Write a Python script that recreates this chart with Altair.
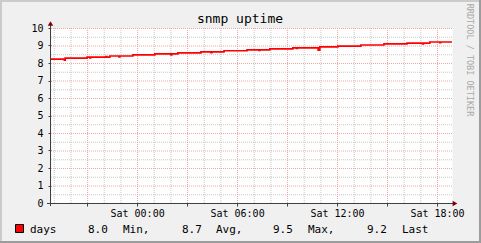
import altair as alt
import pandas as pd

# ---- data ----
title_text = "snmp uptime"
credit_text = "RRDTOOL / TOBI OETIKER"
series_name = "days"

times = [
    "2024-01-05T18:50:00Z", "2024-01-05T19:38:00Z", "2024-01-05T19:41:00Z",
    "2024-01-05T21:00:00Z", "2024-01-05T21:10:00Z", "2024-01-05T21:13:00Z",
    "2024-01-05T22:08:00Z", "2024-01-05T22:11:00Z",
    "2024-01-05T22:22:00Z", "2024-01-05T22:55:00Z", "2024-01-05T22:58:00Z",
    "2024-01-05T23:45:00Z",
    "2024-01-06T01:04:00Z", "2024-01-06T02:02:00Z", "2024-01-06T02:05:00Z",
    "2024-01-06T02:27:00Z",
    "2024-01-06T03:50:00Z", "2024-01-06T04:26:00Z", "2024-01-06T04:29:00Z",
    "2024-01-06T05:13:00Z",
    "2024-01-06T06:36:00Z", "2024-01-06T07:19:00Z", "2024-01-06T07:22:00Z",
    "2024-01-06T07:58:00Z",
    "2024-01-06T09:21:00Z", "2024-01-06T09:34:00Z", "2024-01-06T09:37:00Z",
    "2024-01-06T10:52:00Z", "2024-01-06T10:58:00Z",
    "2024-01-06T12:03:00Z", "2024-01-06T13:26:00Z", "2024-01-06T14:49:00Z",
    "2024-01-06T16:12:00Z", "2024-01-06T17:08:00Z", "2024-01-06T17:11:00Z",
    "2024-01-06T17:34:00Z", "2024-01-06T18:10:00Z", "2024-01-06T18:13:00Z",
    "2024-01-06T18:54:00Z",
]
values = [
    8.22, 8.17, 8.28,
    8.34, 8.29, 8.34,
    8.37, 8.34,
    8.40, 8.35, 8.40,
    8.46,
    8.52, 8.47, 8.52,
    8.58,
    8.64, 8.59, 8.64,
    8.70,
    8.75, 8.72, 8.75,
    8.81,
    8.86, 8.83, 8.86,
    8.73, 8.92,
    8.97, 9.03, 9.09,
    9.14, 9.09, 9.14,
    9.20, 9.17, 9.20,
    9.20,
]

y_major = [0, 1, 2, 3, 4, 5, 6, 7, 8, 9, 10]
y_minor = [0.5, 1.5, 2.5, 3.5, 4.5, 5.5, 6.5, 7.5, 8.5, 9.5]

x_minor = ["2024-01-05T%02d:00:00Z" % h for h in range(19, 24)] + \
          ["2024-01-06T%02d:00:00Z" % h for h in range(0, 19)]
x_major = ["2024-01-05T21:00:00Z"] + \
          ["2024-01-06T%02d:00:00Z" % h for h in (0, 3, 6, 9, 12, 15, 18)]

legend_labels = ["days", "8.0", "Min,", "8.7", "Avg,", "9.5", "Max,", "9.2", "Last"]

# ---- layout / style ----
legend_x = [-21, 37, 72, 131, 165, 222, 257, 316, 351]
FONT = "DejaVu Sans Mono"
W, H = 401, 175

def ms(s):
    return int(pd.Timestamp(s).value // 10**6)

xscale = alt.Scale(type="utc", domain=[ms("2024-01-05T18:50:00Z"), ms("2024-01-06T18:54:00Z")])
yscale = alt.Scale(domain=[0, 10], nice=False, zero=True)

xaxis = alt.Axis(
    values=[ms(s) for s in x_major],
    labelExpr="utchours(datum.value) % 6 == 0 ? utcFormat(datum.value, '%a %H:%M') : ''",
    grid=False, domain=False, ticks=True, tickSize=3, tickColor="#2c4d43",
    labelFont=FONT, labelFontSize=10, labelColor="#000000", labelPadding=2,
    labelAngle=0, labelOverlap=False, labelFlush=False, title=None,
)
yaxis = alt.Axis(
    values=y_major, grid=False, domain=False, ticks=True, tickSize=3,
    tickColor="#2c4d43", labelFont=FONT, labelFontSize=10, labelColor="#000000",
    labelPadding=5, labelFlush=False, title=None,
)

one = alt.Data(values=[{}])

def deco_rect(x, x2, y, y2, color):
    return alt.Chart(one).mark_rect(color=color).encode(
        x=alt.value(x), x2=alt.value(x2), y=alt.value(y), y2=alt.value(y2))

border = [
    deco_rect(-51, 430, -28, -26, "#cbcbcb"),
    deco_rect(-51, -49, -28, 215, "#cbcbcb"),
    deco_rect(-51, 430, 213, 215, "#9c9c9c"),
    deco_rect(428, 430, -28, 215, "#9c9c9c"),
]

gx_minor = alt.Chart(pd.DataFrame({"t": x_minor})).mark_rule(
    color="#c7c7c7", strokeDash=[1, 1], strokeWidth=1, xOffset=0.5
).encode(x=alt.X("t:T", scale=xscale, axis=xaxis))
gy_minor = alt.Chart(pd.DataFrame({"v": y_minor})).mark_rule(
    color="#c7c7c7", strokeDash=[1, 1], strokeWidth=1, yOffset=0.5
).encode(y=alt.Y("v:Q", scale=yscale, axis=yaxis))
gx_major = alt.Chart(pd.DataFrame({"t": x_major})).mark_rule(
    color="#eea7a7", strokeDash=[1, 1], strokeWidth=1, xOffset=0.5
).encode(x=alt.X("t:T", scale=xscale, axis=xaxis))
gy_major = alt.Chart(pd.DataFrame({"v": y_major})).mark_rule(
    color="#eea7a7", strokeDash=[1, 1], strokeWidth=1, yOffset=0.5
).encode(y=alt.Y("v:Q", scale=yscale, axis=yaxis))

line = alt.Chart(pd.DataFrame({"t": times, "v": values})).mark_line(
    interpolate="step-after", color="#ff0000", strokeWidth=1.7
).encode(
    x=alt.X("t:T", scale=xscale, axis=xaxis),
    y=alt.Y("v:Q", scale=yscale, axis=yaxis),
)

axis_col = "#404040"
y_axis_line = alt.Chart(one).mark_rule(color=axis_col, strokeWidth=1).encode(
    x=alt.value(-0.5), y=alt.value(-4), y2=alt.value(178))
x_axis_line = alt.Chart(one).mark_rule(color=axis_col, strokeWidth=1).encode(
    x=alt.value(-4), x2=alt.value(402), y=alt.value(175.5))
arrow_up = alt.Chart(one).mark_point(shape="triangle-up", filled=True, color="#7f0000",
                                     size=30, opacity=1).encode(
    x=alt.value(-0.5), y=alt.value(-4.5))
arrow_right = alt.Chart(one).mark_point(shape="triangle-right", filled=True, color="#7f0000",
                                        size=30, opacity=1).encode(
    x=alt.value(404), y=alt.value(175.5))

title = alt.Chart(one).mark_text(font=FONT, fontSize=13, align="center",
                                 baseline="alphabetic", color="#000000").encode(
    x=alt.value(189), y=alt.value(-5), text=alt.value(title_text))
credit = alt.Chart(one).mark_text(font=FONT, fontSize=8.5, align="center",
                                  baseline="middle", angle=90, color="#a8a8a8").encode(
    x=alt.value(419), y=alt.value(32), text=alt.value(credit_text))

swatch = alt.Chart(one).mark_rect(fill="#ff0000", stroke="#000000", strokeWidth=1).encode(
    x=alt.value(-35.5), x2=alt.value(-27.5), y=alt.value(196.5), y2=alt.value(204.5))

legend_layers = [
    alt.Chart(one).mark_text(font=FONT, fontSize=11, align="left",
                             baseline="alphabetic", color="#000000").encode(
        x=alt.value(px), y=alt.value(204.5), text=alt.value(lbl))
    for lbl, px in zip(legend_labels, legend_x)
]

chart = alt.layer(
    gx_minor, gy_minor, gx_major, gy_major, line,
    *border, y_axis_line, x_axis_line, arrow_up, arrow_right,
    title, credit, swatch, *legend_layers,
).properties(
    width=W, height=H,
    autosize=alt.AutoSizeParams(type="none"),
    padding={"left": 51, "top": 28, "right": 29, "bottom": 40},
    background="#f0f0f0",
).configure_view(fill="#ffffff", stroke="transparent")

chart.save("out.html", embed_options={"renderer": "svg", "actions": False})
